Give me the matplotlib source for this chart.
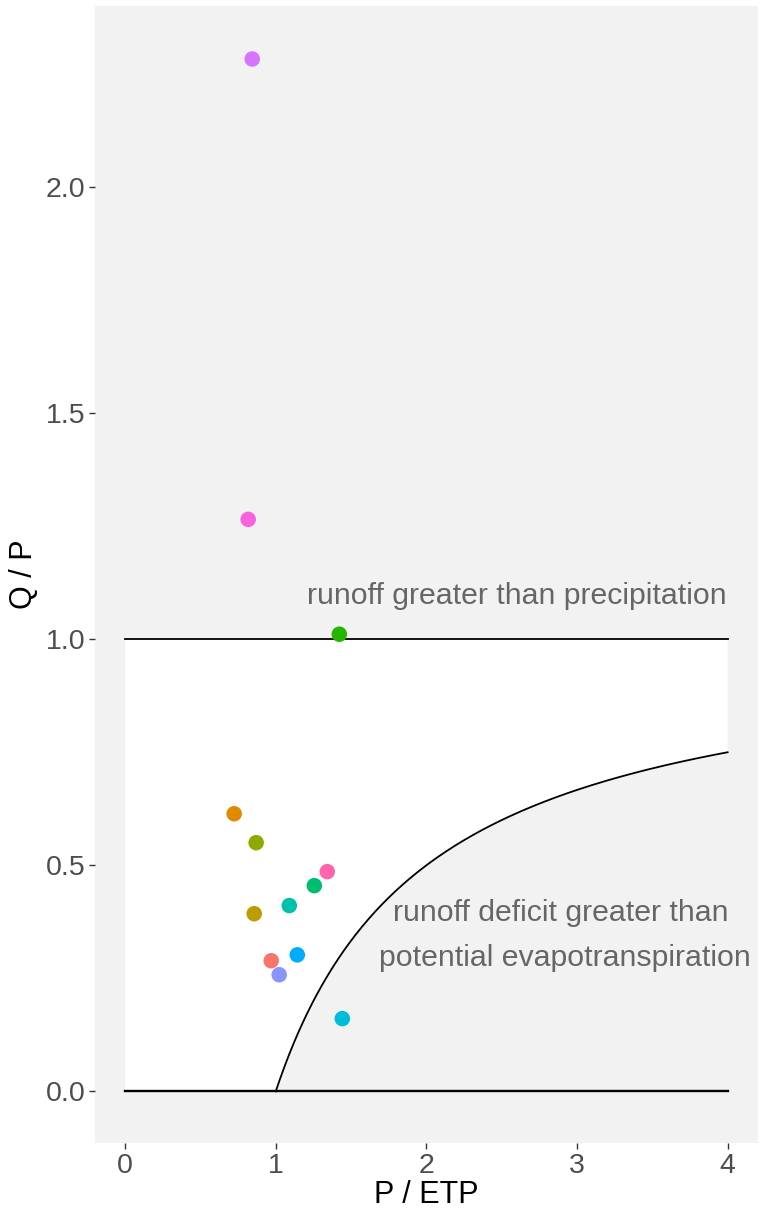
import numpy as np
import matplotlib.pyplot as plt

plt.rcParams['font.family'] = ['Liberation Sans', 'DejaVu Sans']

# points, in ggplot hue order
p_etp = [0.970, 0.724, 0.857, 0.870, 1.422, 1.256, 1.090, 1.442, 1.143, 1.023, 0.844, 0.817, 1.342]
q_p = [0.289, 0.614, 0.393, 0.550, 1.011, 0.455, 0.411, 0.161, 0.302, 0.258, 2.283, 1.265, 0.486]
colours = ['#F8766D', '#E18A00', '#BE9C00', '#8CAB00', '#24B700', '#00BE70', '#00C1AB',
           '#00BBDA', '#00ACFC', '#8B93FF', '#D575FE', '#F962DD', '#FF65AC']

xticks = [0, 1, 2, 3, 4]
yticks = [0.0, 0.5, 1.0, 1.5, 2.0]

# theoretical limit Q/P = 1 - ETP/P
xc = np.linspace(1, 4, 200)
yc = 1 - 1 / xc

fig = plt.figure(figsize=(7.6, 12.18), dpi=100)
ax = fig.add_axes([0.125, 0.0616, 0.872, 0.9334])
ax.set_facecolor('#F2F2F2')

# white feasible region
poly_x = np.concatenate(([0, 1], xc, [4, 0]))
poly_y = np.concatenate(([0, 0], yc, [1, 1]))
ax.fill(poly_x, poly_y, color='white', lw=0, zorder=1)

ax.plot([0, 4], [0, 0], color='black', lw=1.7, zorder=2)
ax.plot([0, 4], [1, 1], color='black', lw=1.3, zorder=2)
ax.plot(xc, yc, color='black', lw=1.3, zorder=2)

ax.scatter(p_etp, q_p, c=colours, s=125, lw=0, zorder=3)

ax.text(2.6, 1.095, 'runoff greater than precipitation', fontsize=21.8, color='#666666',
        ha='center', va='center', zorder=4)
ax.text(2.89, 0.395, 'runoff deficit greater than', fontsize=21.8, color='#666666',
        ha='center', va='center', zorder=4)
ax.text(2.92, 0.296, 'potential evapotranspiration', fontsize=21.8, color='#666666',
        ha='center', va='center', zorder=4)

ax.set_xlim(-0.2, 4.2)
ax.set_ylim(-0.114, 2.4)
ax.set_xticks(xticks)
ax.set_yticks(yticks)
ax.set_yticklabels([f'{v:.1f}' for v in yticks])
ax.tick_params(length=4, width=1, color='#333333', labelcolor='#4D4D4D', labelsize=20.5, pad=3)
for s in ax.spines.values():
    s.set_visible(False)
ax.set_xlabel('P / ETP', fontsize=22, labelpad=1)
ax.set_ylabel('Q / P', fontsize=22, labelpad=5)

fig.savefig('out.png', dpi=100)
